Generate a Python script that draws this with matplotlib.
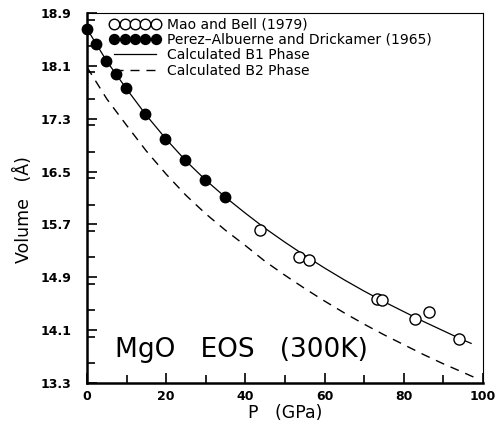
import numpy as np
import matplotlib
matplotlib.use("Agg")
import matplotlib.pyplot as plt
from matplotlib.ticker import MultipleLocator

# Mao and Bell (1979) -- open circles
P_mao = [43.7, 53.6, 56.0, 73.2, 74.6, 82.8, 86.3, 94.0]
V_mao = [15.62, 15.21, 15.16, 14.57, 14.55, 14.27, 14.38, 13.97]

# Perez-Albuerne and Drickamer (1965) -- filled circles
P_pad = [0.0, 2.3, 4.8, 7.2, 9.8, 14.7, 19.8, 24.7, 29.9, 34.9]
V_pad = [18.66, 18.43, 18.18, 17.98, 17.76, 17.37, 17.00, 16.68, 16.38, 16.12]

# calculated curves
P_b1 = [0, 5, 10, 15, 20, 25, 30, 35, 40, 45, 50, 55, 60, 65, 70, 75, 80, 85, 90, 95, 97]
V_b1 = [18.66, 18.17, 17.75, 17.35, 16.99, 16.66, 16.37, 16.11, 15.87, 15.64, 15.43,
        15.23, 15.04, 14.86, 14.69, 14.53, 14.38, 14.23, 14.09, 13.95, 13.90]
P_b2 = [0, 5, 10, 15, 20, 25, 30, 35, 40, 45, 50, 55, 60, 65, 70, 75, 80, 85, 90, 95, 98]
V_b2 = [18.08, 17.60, 17.20, 16.81, 16.46, 16.14, 15.86, 15.61, 15.38, 15.14, 14.93,
        14.73, 14.54, 14.36, 14.19, 14.03, 13.88, 13.73, 13.59, 13.46, 13.38]

fig = plt.figure(figsize=(4.96, 4.25), dpi=100)
ax = fig.add_axes([0.1754, 0.0988, 0.7984, 0.8706])

ax.plot(P_b1, V_b1, color="black", lw=0.9, label="Calculated B1 Phase")
ax.plot(P_b2, V_b2, color="black", lw=1.0, ls=(0, (6.5, 5)), label="Calculated B2 Phase")
ax.plot(P_mao, V_mao, ls="none", marker="o", ms=8, mfc="white", mec="black", mew=1.0,
        label="Mao and Bell (1979)", clip_on=False)
ax.plot(P_pad, V_pad, ls="none", marker="o", ms=7.5, mfc="black", mec="black",
        label="Perez\u2013Albuerne and Drickamer (1965)", clip_on=False)

ax.set_xlim(0, 100)
ax.set_ylim(13.3, 18.9)
ax.xaxis.set_major_locator(MultipleLocator(20))
ax.xaxis.set_minor_locator(MultipleLocator(10))
yt = np.arange(13.3, 18.95, 0.8)
ax.set_yticks(yt)
ax.set_yticklabels([f"{v:.1f}" for v in yt])
ax.yaxis.set_minor_locator(MultipleLocator(0.4))

ax.tick_params(which="both", direction="in", top=False, right=False, width=1.2)
ax.tick_params(which="major", length=7, labelsize=9)
ax.tick_params(which="minor", length=6)
ax.tick_params(axis="x", which="major", pad=5)
ax.tick_params(axis="y", which="major", pad=11)
for lab in ax.get_xticklabels() + ax.get_yticklabels():
    lab.set_fontweight("bold")
for s in ["left", "bottom"]:
    ax.spines[s].set_linewidth(1.8)
for s in ["top", "right"]:
    ax.spines[s].set_linewidth(0.8)

ax.set_xlabel("P   (GPa)", fontsize=12.5)
ax.xaxis.set_label_coords(0.5, -0.058)
ax.set_ylabel("Volume   (Å)", fontsize=12.5)
ax.yaxis.set_label_coords(-0.136, 0.47)

ax.text(39, 13.8, "MgO   EOS   (300K)", fontsize=19, ha="center", va="center")

h, l = ax.get_legend_handles_labels()
order = [2, 3, 0, 1]
ax.legend([h[i] for i in order], [l[i] for i in order], loc="upper left",
          bbox_to_anchor=(0.058, 0.988), frameon=False, numpoints=5,
          handlelength=3.6, handletextpad=0.5, fontsize=10, labelspacing=0.1,
          borderaxespad=0, borderpad=0, markerscale=0.95)

fig.savefig("out.png", dpi=100)
